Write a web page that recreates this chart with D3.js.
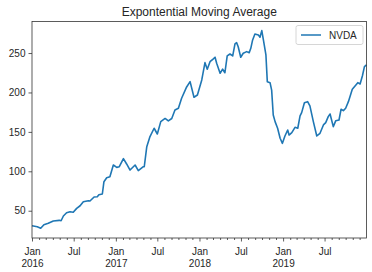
<!DOCTYPE html>
<html>
<head>
<meta charset="utf-8">
<script src="https://cdn.jsdelivr.net/npm/d3@7"></script>
<style>
body { margin: 0; background: #fff; }
svg text { font-family: "Liberation Sans", Arial, sans-serif; fill: #262626; }
</style>
</head>
<body>
<div id="chart"></div>
<script>
// NVDA, exponential moving average
let dates = ["2016-01-01","2016-01-24","2016-02-08","2016-02-22","2016-03-12","2016-04-03","2016-04-29","2016-05-07","2016-05-17","2016-05-31",
	"2016-06-15","2016-06-29","2016-07-14","2016-07-29","2016-08-12","2016-09-03","2016-09-10","2016-09-28","2016-10-12","2016-10-19",
	"2016-11-03","2016-11-10","2016-11-22","2016-12-06","2016-12-21","2017-01-05","2017-01-16","2017-02-03","2017-02-17","2017-03-04",
	"2017-03-26","2017-04-09","2017-05-01","2017-05-05","2017-05-16","2017-05-30","2017-06-17","2017-07-01","2017-07-16","2017-08-04",
	"2017-08-18","2017-09-02","2017-09-16","2017-10-01","2017-10-15","2017-11-06","2017-11-21","2017-12-08","2017-12-23","2018-01-11",
	"2018-01-25","2018-02-04","2018-02-16","2018-02-28","2018-03-10","2018-03-17","2018-04-01","2018-04-12","2018-04-22","2018-05-02",
	"2018-05-14","2018-05-26","2018-06-05","2018-06-12","2018-06-19","2018-06-30","2018-07-11","2018-07-26","2018-08-06","2018-08-13",
	"2018-08-21","2018-08-31","2018-09-15","2018-09-22","2018-09-30","2018-10-07","2018-10-18","2018-10-24","2018-11-05","2018-11-12",
	"2018-11-19","2018-11-27","2018-12-08","2018-12-19","2018-12-29","2019-01-09","2019-01-21","2019-01-27","2019-02-08","2019-02-22",
	"2019-03-06","2019-03-16","2019-03-23","2019-04-04","2019-04-18","2019-04-28","2019-05-13","2019-05-28","2019-06-11","2019-06-26",
	"2019-07-06","2019-07-17","2019-07-25","2019-08-08","2019-08-19","2019-09-02","2019-09-11","2019-09-21","2019-10-01","2019-10-13",
	"2019-10-30","2019-11-11","2019-11-23","2019-12-03","2019-12-13","2019-12-22","2019-12-31"];
let nvda = [31,29.7,27.7,32.2,34,37,37.8,37.3,43.3,47.5,
	48.8,48,53,56.3,61.4,62.7,62.3,67.4,67.8,70.3,
	71.2,86.8,91.9,93.1,108,105,105.8,116,109.3,101.6,
	108,100.8,105.8,105.8,131.2,144,154.6,147.3,163,167,
	164,167,177.8,180,192.6,207,213.7,193.9,196.8,215.9,
	237.8,229.4,239,242,244.7,237,224.4,229.5,225,246.3,
	248.8,246.3,261.6,263.2,258,244.7,249.7,251.8,250.5,256,
	266.6,274.2,273,270,278.4,266.6,247.6,213.7,212.4,203,
	171.5,163,154.6,141.9,135.5,144.8,152.4,146,149,155.8,
	154.6,170.2,174.4,187,188.3,182.9,163,144.8,148.2,158.8,
	161.7,169.3,172.7,156.6,164.2,165.1,178.7,176.9,180,188.3,
	204,208.2,212.4,210.7,220.9,232.7,234.9];
let yTicks = [50,100,150,200,250];
let title = "Expontential Moving Average";
let seriesName = "NVDA";

let width = 372, height = 272;
let margin = {left: 32, right: 5.5, top: 21.5, bottom: 34};
let lineColor = "#1f77b4";

let parse = d3.timeParse("%Y-%m-%d");
let data = dates.map((d, i) => ({date: parse(d), v: nvda[i]}));

let svg = d3.select("#chart").append("svg")
	.attr("width", width)
	.attr("height", height);

let x = d3.scaleTime()
	.domain(d3.extent(data, d => d.date))
	.range([margin.left, width - margin.right]);

let y = d3.scaleLinear()
	.domain([15.4, 290])
	.range([height - margin.bottom, margin.top]);

// y axis
let yAxis = d3.axisLeft(y).tickValues(yTicks).tickSize(3.5).tickPadding(3);
let gy = svg.append("g").attr("transform", "translate(" + margin.left + ",0)").call(yAxis);
gy.select(".domain").remove();
gy.selectAll("line").attr("stroke", "#333").attr("stroke-width", 0.8);
gy.selectAll("text").style("font-size", "10px").attr("fill", "#262626");

// x axis: minor monthly ticks, major Jan / Jul
let months = d3.timeMonth.range(x.domain()[0], x.domain()[1]);
let major = months.filter(m => m.getMonth() % 6 == 0);
let minor = months.filter(m => m.getMonth() % 6 != 0);

let gx = svg.append("g").attr("transform", "translate(0," + (height - margin.bottom) + ")");
gx.call(d3.axisBottom(x).tickValues(minor).tickSize(2).tickFormat(""));
gx.select(".domain").remove();
let gx2 = svg.append("g").attr("transform", "translate(0," + (height - margin.bottom) + ")");
gx2.call(d3.axisBottom(x).tickValues(major).tickSize(3.5).tickPadding(3).tickFormat(""));
gx2.select(".domain").remove();
svg.selectAll("g.tick line").attr("stroke", "#333").attr("stroke-width", 0.8);

gx2.selectAll(".tick").each(function(d) {
	let t = d3.select(this).append("text")
		.attr("y", 0)
		.attr("text-anchor", "middle")
		.style("font-size", "10px")
		.attr("fill", "#262626");
	if (d.getMonth() == 0) {
		t.append("tspan").attr("x", 0).attr("y", 16.5).text("Jan");
		t.append("tspan").attr("x", 0).attr("y", 28.5).text(d3.timeFormat("%Y")(d));
	} else {
		t.append("tspan").attr("x", 0).attr("y", 16.5).text("Jul");
	}
});

// line
let line = d3.line()
	.x(d => x(d.date))
	.y(d => y(d.v));

svg.append("path")
	.datum(data)
	.attr("fill", "none")
	.attr("stroke", lineColor)
	.attr("stroke-width", 1.6)
	.attr("stroke-linejoin", "round")
	.attr("d", line);

// frame
svg.append("rect")
	.attr("x", margin.left)
	.attr("y", margin.top)
	.attr("width", width - margin.left - margin.right)
	.attr("height", height - margin.top - margin.bottom)
	.attr("fill", "none")
	.attr("stroke", "#333")
	.attr("stroke-width", 0.8);

// title
svg.append("text")
	.attr("x", (margin.left + width - margin.right) / 2)
	.attr("y", 16)
	.attr("text-anchor", "middle")
	.style("font-size", "12px")
	.text(title);

// legend
let lg = svg.append("g").attr("transform", "translate(296,25.5)");
lg.append("rect")
	.attr("width", 67)
	.attr("height", 19)
	.attr("rx", 2)
	.attr("fill", "#fff")
	.attr("fill-opacity", 0.8)
	.attr("stroke", "#ccc")
	.attr("stroke-width", 0.8);
lg.append("line")
	.attr("x1", 5).attr("x2", 25)
	.attr("y1", 9.5).attr("y2", 9.5)
	.attr("stroke", lineColor)
	.attr("stroke-width", 1.5);
lg.append("text")
	.attr("x", 33)
	.attr("y", 13)
	.style("font-size", "10px")
	.text(seriesName);
</script>
</body>
</html>
